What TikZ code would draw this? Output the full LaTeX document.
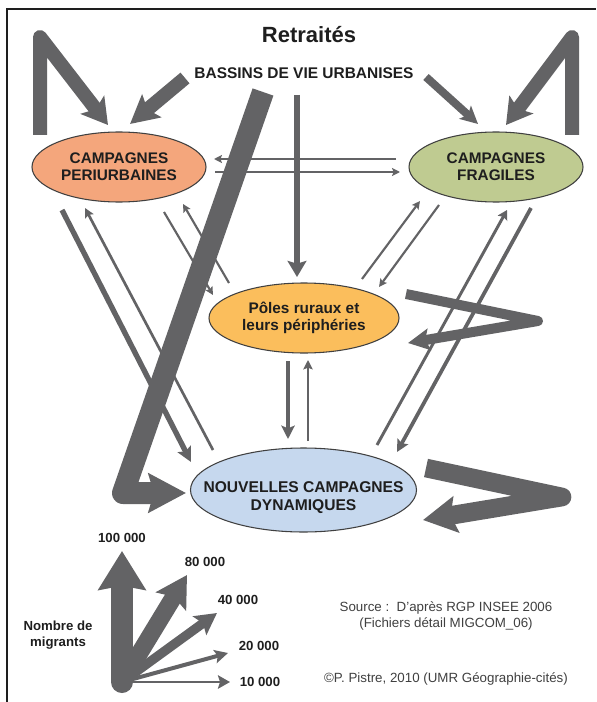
\documentclass[tikz,border=0pt]{standalone}
\usepackage{fontspec}
\setmainfont{Liberation Sans}
\usetikzlibrary{arrows.meta,shapes.geometric}
\definecolor{flowgray}{HTML}{636365}
\definecolor{inkdark}{HTML}{1E1E1E}
\definecolor{fillcp}{HTML}{F4A67C}
\definecolor{fillcf}{HTML}{BFCB91}
\definecolor{fillpr}{HTML}{FBBE5C}
\definecolor{fillncd}{HTML}{C6D8EE}
\tikzset{
  zone/.style={ellipse,draw=inkdark!85,line width=0.8pt,inner xsep=-16pt,inner ysep=0pt,align=center,text=inkdark,font=\bfseries\fontsize{11.5}{13}\selectfont},
  zonetext/.style={inner sep=0pt,align=center,text=inkdark,font=\bfseries\fontsize{11.7}{13.5}\selectfont},
  flow/.style n args={4}{draw=flowgray,line width=#1,line join=round,line cap=butt,-{Stealth[length=#2,width=#3,inset=#4,fill=flowgray]}},
  legendtext/.style={text=inkdark,inner sep=0pt,font=\bfseries\fontsize{9.9}{12}\selectfont},
  srctext/.style={text=inkdark!85,inner sep=0pt,align=center,font=\fontsize{10}{11.4}\selectfont},
}
\begin{document}
\begin{tikzpicture}[x=0.75pt,y=-0.75pt]
\useasboundingbox (0,0) rectangle (596,702);
\fill[white] (0,0) rectangle (596,702);
% frame
\coordinate (fa) at (7,702);
\coordinate (fb) at (7,9);
\coordinate (fc) at (596,9);
\draw[inkdark,line width=1.5pt,line join=miter] (fa) -- (fb) -- (fc);
% zones
\node[zone,fill=fillcp,minimum width=130.5pt,minimum height=52.5pt] (cp) at (119,167) {CAMPAGNES\\PERIURBAINES};
\node[zone,fill=fillcf,minimum width=130.5pt,minimum height=52.5pt] (cf) at (496,167) {CAMPAGNES\\FRAGILES};
\node[zone,fill=fillpr,minimum width=142.5pt,minimum height=52.5pt] (pr) at (304,318) {Pôles ruraux et\\leurs périphéries};
\node[zone,fill=fillncd,minimum width=169.5pt,minimum height=63pt] (ncd) at (303.5,490) {};
\node[zonetext] (ncdt) at (303.5,498) {NOUVELLES CAMPAGNES\\DYNAMIQUES};
% titles
\node[inner sep=0pt,text=inkdark,font=\bfseries\fontsize{16.5}{19}\selectfont] (title) at (309,35) {Retraités};
\node[inner sep=0pt,text=inkdark,font=\bfseries\fontsize{11.6}{13}\selectfont] (bv) at (304,73) {BASSINS DE VIE URBANISES};
% named ends
\coordinate (s1) at (40,135); \coordinate (c1) at (40,37); \coordinate (t1) at (108,125);
\coordinate (s2) at (185,78); \coordinate (t2) at (130,124);
\coordinate (s3) at (263,92); \coordinate (c3) at (123,493); \coordinate (t3) at (186,493);
\coordinate (s4) at (297,95); \coordinate (t4) at (297,277);
\coordinate (s5) at (426,77); \coordinate (t5) at (478,124);
\coordinate (s6) at (572,135); \coordinate (c6) at (572,37); \coordinate (t6) at (506,125);
\coordinate (s7) at (396,159); \coordinate (t7) at (214,159);
\coordinate (s8) at (215,172); \coordinate (t8) at (400,172);
\coordinate (s9) at (62,210); \coordinate (t9) at (191,462);
\coordinate (s10) at (213,450); \coordinate (t10) at (85,208);
\coordinate (s11) at (164,212); \coordinate (t11) at (213,295);
\coordinate (s12) at (229,283); \coordinate (t12) at (183,204);
\coordinate (s13) at (362,279); \coordinate (t13) at (420,201);
\coordinate (s14) at (439,205); \coordinate (t14) at (379,287);
\coordinate (s15) at (288,361); \coordinate (t15) at (288,439);
\coordinate (s16) at (308,441); \coordinate (t16) at (308,360);
\coordinate (s17) at (377,445); \coordinate (t17) at (507,210);
\coordinate (s18) at (531,208); \coordinate (t18) at (397,452);
\coordinate (s19) at (406,294); \coordinate (c19) at (538,321); \coordinate (t19) at (408,343);
\coordinate (s20) at (426,468); \coordinate (c20) at (562,497); \coordinate (t20) at (423,520);
% thin connectors
\draw[flow={1.6pt}{6pt}{6pt}{1.2pt}] (s7) -- (t7);
\draw[flow={1.6pt}{6pt}{6pt}{1.2pt}] (s8) -- (t8);
\draw[flow={1.6pt}{6pt}{6pt}{1.2pt}] (s11) -- (t11);
\draw[flow={1.6pt}{6pt}{6pt}{1.2pt}] (s12) -- (t12);
\draw[flow={1.6pt}{6pt}{6pt}{1.2pt}] (s13) -- (t13);
\draw[flow={1.6pt}{6pt}{6pt}{1.2pt}] (s14) -- (t14);
\draw[flow={2pt}{7pt}{7pt}{1.2pt}] (s10) -- (t10);
\draw[flow={2pt}{7pt}{7pt}{1.2pt}] (s16) -- (t16);
\draw[flow={2.2pt}{7pt}{8pt}{1.2pt}] (s17) -- (t17);
\draw[flow={2.8pt}{9pt}{9pt}{1.5pt}] (s18) -- (t18);
\draw[flow={3.2pt}{10pt}{10pt}{2pt}] (s15) -- (t15);
\draw[flow={4pt}{11pt}{11pt}{2pt}] (s9) -- (t9);
% heavy connectors
\draw[flow={5.2pt}{12pt}{14pt}{2pt}] (s4) -- (t4);
\draw[flow={6pt}{13pt}{13pt}{3pt}] (s5) -- (t5);
\draw[flow={10.5pt}{21pt}{22pt}{4pt}] (s2) -- (t2);
\draw[flow={10.5pt}{19pt}{22pt}{4pt}] (s1) -- (c1) -- (t1);
\draw[flow={10.5pt}{19pt}{22pt}{4pt}] (s6) -- (c6) -- (t6);
\draw[flow={7.5pt}{16pt}{16pt}{3pt}] (s19) -- (c19) -- (t19);
\draw[flow={14pt}{25pt}{27pt}{4pt}] (s20) -- (c20) -- (t20);
\draw[flow={16.5pt}{28pt}{29pt}{4pt}] (s3) -- (c3) -- (t3);
% legend
\coordinate (l0) at (122,682);
\coordinate (l1) at (122,551);
\coordinate (l2) at (187,575);
\coordinate (l3) at (217,613);
\coordinate (l4) at (228,653);
\coordinate (l5) at (230,682);
\draw[flow={2pt}{9pt}{10pt}{1.5pt}] (l0) -- (l5);
\draw[flow={3pt}{10pt}{10pt}{2pt}] (l0) -- (l4);
\draw[flow={7pt}{16pt}{17pt}{3pt}] (l0) -- (l3);
\draw[flow={13pt}{23pt}{26pt}{4pt}] (l0) -- (l2);
\draw[flow={16.5pt}{29pt}{35pt}{3pt},line cap=round] (l0) -- (l1);
\node[legendtext] (n1) at (122,538) {100 000};
\node[legendtext] (n2) at (205,562) {80 000};
\node[legendtext] (n3) at (238,600) {40 000};
\node[legendtext] (n4) at (259,646) {20 000};
\node[legendtext] (n5) at (260,682) {10 000};
\node[legendtext,align=center] (nm) at (58,635) {Nombre de\\migrants};
\node[srctext] (src) at (446,616) {Source :\ \ D'après RGP INSEE 2006\\(Fichiers détail MIGCOM\_06)};
\node[srctext] (cop) at (446,679) {©P. Pistre, 2010 (UMR Géographie-cités)};
\end{tikzpicture}
\end{document}
